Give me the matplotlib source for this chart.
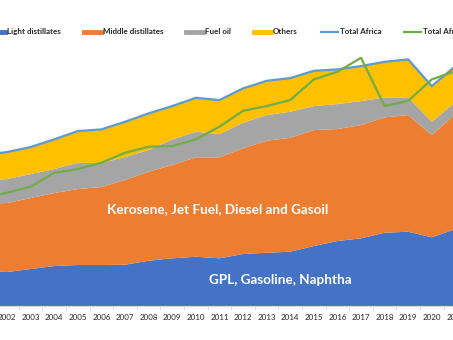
import numpy as np
import matplotlib
matplotlib.use("Agg")
import matplotlib.pyplot as plt
from matplotlib.lines import Line2D

# Africa oil products demand (kb/d)
years = list(range(2001, 2022))
light = [587, 578, 629, 680, 697, 697, 702, 770, 811, 838, 811,
         884, 906, 923, 1020, 1105, 1151, 1246, 1263, 1168, 1309]
middle = [1156, 1173, 1207, 1241, 1292, 1326, 1440, 1513, 1586, 1690, 1717,
          1797, 1904, 1938, 1972, 1904, 1926, 1962, 1984, 1739, 1955]
fuel_oil = [383, 408, 408, 408, 447, 408, 391, 369, 437, 435, 396,
            435, 437, 442, 408, 425, 408, 340, 301, 226, 204]
others = [442, 459, 459, 505, 539, 573, 600, 624, 566, 578, 578,
          585, 583, 573, 600, 590, 595, 605, 646, 607, 612]
total_alt = [1836, 1926, 2028, 2266, 2329, 2436, 2606, 2708, 2720, 2834, 3048,
             3320, 3400, 3502, 3854, 3983, 4221, 3400, 3490, 3854, 3995]

labels = ["Light distillates", "Middle distillates", "Fuel oil", "Others",
          "Total Africa", "Total Africa"]
colors = ["#4472C4", "#ED7D31", "#A5A5A5", "#FFC000", "#5B9BD5", "#70AD47"]

total = np.sum([light, middle, fuel_oil, others], axis=0)

plt.rcParams['font.family'] = ['Lato', 'DejaVu Sans']

fig = plt.figure(figsize=(4.53, 3.40), dpi=100)
# the chart is cropped on the right: let the axes run past the figure edge
x0, x1 = 2002 - 7 / 23.6, 2021.5
ax = fig.add_axes([0, 0.1, (x1 - x0) * 23.6 / 453, 0.782])

ax.stackplot(years, light, middle, fuel_oil, others, colors=colors[:4],
             linewidth=0)
ax.plot(years, total, color=colors[4], lw=1.6)
ax.plot(years, total_alt, color=colors[5], lw=1.6)

ax.set_xticks(years)
ax.set_xticklabels([str(y) for y in years], fontsize=5.8, color="#262626")
ax.set_xticks([y + 0.5 for y in years], minor=True)
ax.tick_params(axis='x', which='major', length=0, pad=6)
ax.tick_params(axis='x', which='minor', length=3, color="#D9D9D9")
ax.set_yticks([])
ax.set_xlim(x0, x1)
ax.set_ylim(0, 4522)
for side in ['top', 'right', 'left']:
    ax.spines[side].set_visible(False)
ax.spines['bottom'].set_color("#D9D9D9")

fig.text(218 / 453, 1 - 209 / 340, "Kerosene, Jet Fuel, Diesel and Gasoil",
         ha='center', va='center', color='white', fontsize=9.7, fontweight='bold')
fig.text(280 / 453, 1 - 280 / 340, "GPL, Gasoline, Naphtha",
         ha='center', va='center', color='white', fontsize=9.7, fontweight='bold')

handles = [Line2D([], [], color=c, lw=3.5) for c in colors[:4]]
handles += [Line2D([], [], color=c, lw=1.6) for c in colors[4:]]
leg = fig.legend(handles, labels, loc='center', bbox_to_anchor=(0.5, 0.906),
                 ncol=6, frameon=False, fontsize=5.8, handlelength=2.1,
                 handletextpad=0.25, columnspacing=2.85)
for t in leg.get_texts():
    t.set_fontweight('bold')
    t.set_color("#262626")

fig.savefig("out.png", dpi=100)
